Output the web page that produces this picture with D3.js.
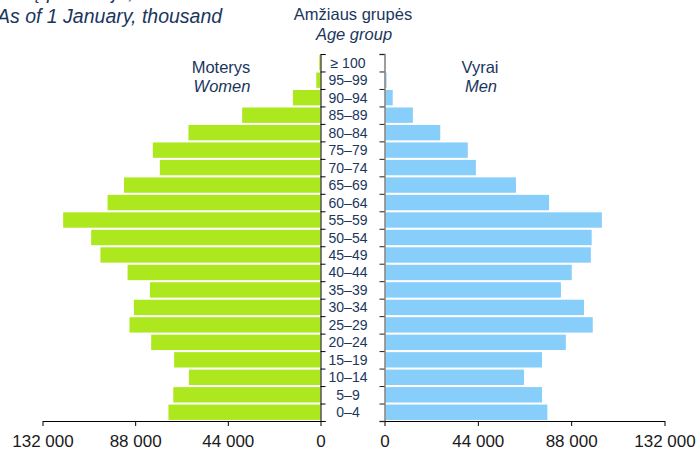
<!DOCTYPE html>
<html>
<head>
<meta charset="utf-8">
<script src="https://cdn.jsdelivr.net/npm/d3@7"></script>
<style>
  html, body { margin: 0; padding: 0; background: #fff; }
  svg { display: block; font-family: "Liberation Sans", Arial, sans-serif; }
</style>
</head>
<body>
<svg id="chart" width="700" height="450"></svg>
<script>
// Age groups, top to bottom
const ageGroups = ["≥ 100","95–99","90–94","85–89","80–84","75–79","70–74","65–69","60–64","55–59",
  "50–54","45–49","40–44","35–39","30–34","25–29","20–24","15–19","10–14","5–9","0–4"];
// Women (persons), same order
const women = [600, 2000, 13100, 37200, 62700, 79600, 76300, 93300, 101100, 122200,
  108900, 104500, 91600, 81000, 88600, 90700, 80400, 69500, 62500, 69900, 72200];
// Men (persons), same order
const men = [100, 500, 3400, 12900, 25800, 38800, 42600, 61500, 77100, 102000,
  97200, 96800, 87800, 82700, 93600, 97700, 85000, 73800, 65300, 73800, 76300];
const xTicks = [0, 44000, 88000, 132000];

const navy = "#1B365D";
const svg = d3.select("#chart");

const xL = d3.scaleLinear().domain([0, 132000]).range([320.5, 42.5]);
const xR = d3.scaleLinear().domain([0, 132000]).range([384.5, 664.5]);
const y = d3.scaleBand().domain(ageGroups).range([54, 421]).paddingInner(0.12).paddingOuter(0.06);
const yLin = d3.scaleLinear().domain([0, ageGroups.length]).range([421, 54]);

// bars
svg.append("g").selectAll("rect").data(ageGroups).join("rect")
  .attr("x", (d, i) => xL(women[i]))
  .attr("y", d => y(d))
  .attr("width", (d, i) => xL(0) - xL(women[i]))
  .attr("height", y.bandwidth())
  .attr("fill", "#ADE81E");

svg.append("g").selectAll("rect").data(ageGroups).join("rect")
  .attr("x", xR(0) + 1)
  .attr("y", d => y(d))
  .attr("width", (d, i) => xR(men[i]) - xR(0))
  .attr("height", y.bandwidth())
  .attr("fill", "#87CEFA");

// vertical axes
const vl = svg.append("g").attr("transform", `translate(${xL(0)},0)`)
  .call(d3.axisRight(yLin).tickValues(d3.range(0, ageGroups.length + 1)).tickFormat("").tickSize(5).tickSizeOuter(5));
vl.selectAll("path, line").attr("stroke", "#000");

const vr = svg.append("g").attr("transform", `translate(${xR(0)},0)`)
  .call(d3.axisLeft(yLin).tickValues(d3.range(0, ageGroups.length + 1)).tickFormat("").tickSize(5).tickSizeOuter(5));
vr.select("path").attr("stroke", "#808080").attr("stroke-width", 1.5);
vr.selectAll("line").attr("stroke", "#222");

// bottom axes
const fmt = d => d3.format(",")(d).replace(/,/g, " ");
function styleBottom(g) {
  g.select(".domain").attr("stroke", "#000");
  g.selectAll(".tick line").attr("stroke", "#000");
  g.selectAll("text").attr("font-size", 17).attr("fill", "#1a1a1a")
    .attr("font-family", "'Liberation Sans', Arial, sans-serif");
}
svg.append("g").attr("transform", "translate(0,421)")
  .call(d3.axisBottom(xL).tickValues(xTicks).tickFormat(fmt).tickSize(5).tickSizeOuter(0).tickPadding(9))
  .call(styleBottom);
svg.append("g").attr("transform", "translate(0,421)")
  .call(d3.axisBottom(xR).tickValues(xTicks).tickFormat(fmt).tickSize(5).tickSizeOuter(0).tickPadding(9))
  .call(styleBottom);

// age labels
svg.append("g").selectAll("text").data(ageGroups).join("text")
  .attr("x", 348)
  .attr("y", d => y(d) + y.bandwidth() / 2)
  .attr("dy", "0.36em")
  .attr("text-anchor", "middle")
  .attr("font-size", 14)
  .attr("fill", navy)
  .text(d => d);

// headers
function label(x, yy, txt, size, italic, anchor) {
  svg.append("text").attr("x", x).attr("y", yy)
    .attr("text-anchor", anchor || "middle")
    .attr("font-size", size)
    .attr("font-style", italic ? "italic" : "normal")
    .attr("fill", navy)
    .text(txt);
}
label(-3, -1, "Metų pradžioje, tūkst.", 20, true, "start");
label(-3, 22.5, "As of 1 January, thousand", 19.5, true, "start");
label(353, 20, "Amžiaus grupės", 16.5, false);
label(354, 39.5, "Age group", 16.5, true);
label(221, 73, "Moterys", 16.5, false);
label(222, 92, "Women", 16.5, true);
label(480, 73, "Vyrai", 16.5, false);
label(481, 92, "Men", 16.5, true);
</script>
</body>
</html>
